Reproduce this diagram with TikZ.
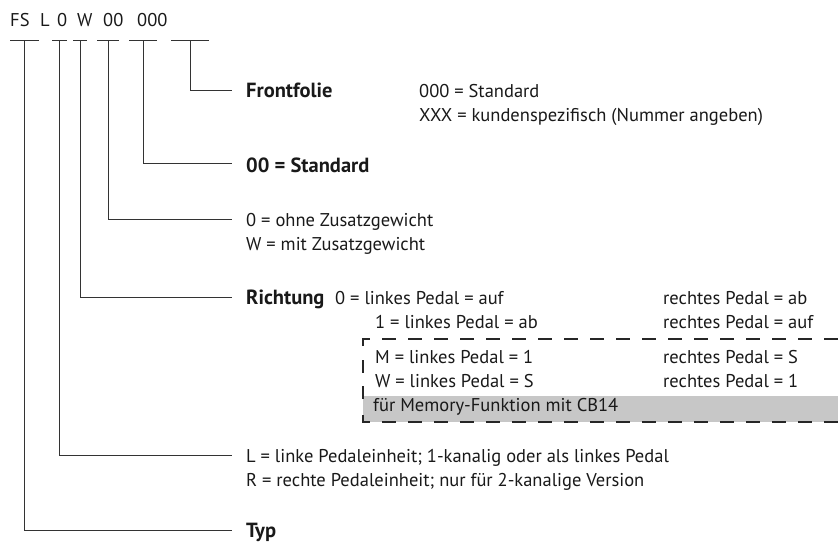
\documentclass[tikz,border=0pt]{standalone}
\usepackage{fontspec}
\setmainfont{PT Sans}
\begin{document}
\begin{tikzpicture}[x=1pt,y=-1pt,
  txt/.style={anchor=base west, inner sep=0pt, font=\fontsize{18.5}{22}\selectfont, text=black!90},
  btxt/.style={txt, font=\fontsize{20.5}{24}\selectfont\bfseries},
  ln/.style={draw=black!80, line width=1pt},
  dsh/.style={draw=black!85, line width=1.8pt, dash pattern=on 14pt off 12pt},
  dshs/.style={draw=black!85, line width=1.8pt}
]
\useasboundingbox (0,0) rectangle (838,554);

% memory box
\fill[black!22] (363,396) rectangle (850,422);
\draw[dsh] (363,346) -- (363,339) -- (850,339);
\draw[dsh] (363,415) -- (363,422) -- (850,422);
\draw[dshs] (363,360) -- (363,373);
\draw[dshs] (363,386) -- (363,399);

% code
\node[txt] (c1) at (10,26) {FS};
\node[txt] (c2) at (40,26) {L};
\node[txt] (c3) at (57,26) {0};
\node[txt] (c4) at (77,26) {W};
\node[txt] (c5) at (103,26) {00};
\node[txt] (c6) at (137,26) {000};

% labels
\node[btxt] (front) at (246,97) {Frontfolie};
\node[txt] (front1) at (419,97) {000 = Standard};
\node[txt] (front2) at (419,121) {XXX = kundenspezifisch (Nummer angeben)};
\node[btxt] (std) at (246,172) {00 = Standard};
\node[txt] (gew1) at (246,226) {0 = ohne Zusatzgewicht};
\node[txt] (gew2) at (246,250) {W = mit Zusatzgewicht};
\node[btxt] (richt) at (246,304) {Richtung};
\node[txt] (r0) at (335,304) {0 = linkes Pedal = auf};
\node[txt] (r0r) at (663,304) {rechtes Pedal = ab};
\node[txt] (r1) at (375,328) {1 = linkes Pedal = ab};
\node[txt] (r1r) at (663,328) {rechtes Pedal = auf};
\node[txt] (rm) at (375,363) {M = linkes Pedal = 1};
\node[txt] (rmr) at (663,363) {rechtes Pedal = S};
\node[txt] (rw) at (375,387) {W = linkes Pedal = S};
\node[txt] (rwr) at (663,387) {rechtes Pedal = 1};
\node[txt] (mem) at (373,411) {für Memory-Funktion mit CB14};
\node[txt] (ped1) at (246,462) {L = linke Pedaleinheit; 1-kanalig oder als linkes Pedal};
\node[txt] (ped2) at (246,486) {R = rechte Pedaleinheit; nur für 2-kanalige Version};
\node[btxt] (typ) at (246,537) {Typ};

% underline segments and connector starts
\foreach \a/\b/\m/\n in {10/39/24/1, 52/67/59/2, 73/87/80/3, 97/119/108/4, 129/157/143/5, 171/209/190/6}{
  \draw[ln] (\a,40) -- (\b,40);
  \coordinate (s\n) at (\m,40);
}
% connector ends
\coordinate (e1) at (232,530);
\coordinate (e2) at (232,455);
\coordinate (e3) at (232,297);
\coordinate (e4) at (232,219);
\coordinate (e5) at (232,163);
\coordinate (e6) at (232,90);
\foreach \n in {1,...,6}{
  \draw[ln] (s\n) |- (e\n);
}
\end{tikzpicture}
\end{document}
